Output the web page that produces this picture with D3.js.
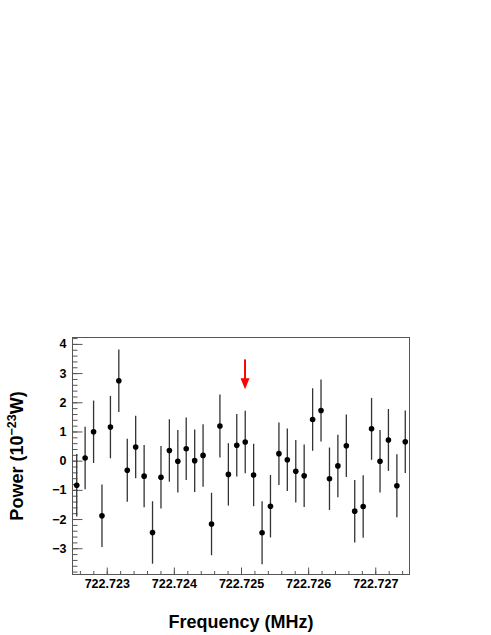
<!DOCTYPE html>
<html>
<head>
<meta charset="utf-8">
<script src="https://cdn.jsdelivr.net/npm/d3@7"></script>
<style>
  html, body { margin: 0; padding: 0; background: #fff; }
  svg { display: block; }
  text { font-family: "Liberation Sans", Arial, Helvetica, sans-serif; font-weight: bold; }
</style>
</head>
<body>
<svg id="chart" width="491" height="635"></svg>
<script>
// ---- data ----
const frequencies = [
  722.722553, 722.722678, 722.722804, 722.722929, 722.723055,
  722.723180, 722.723306, 722.723431, 722.723557, 722.723682,
  722.723808, 722.723933, 722.724059, 722.724184, 722.724310,
  722.724435, 722.724561, 722.724686, 722.724812, 722.724937,
  722.725063, 722.725188, 722.725314, 722.725439, 722.725565,
  722.725690, 722.725816, 722.725941, 722.726067, 722.726192,
  722.726318, 722.726443, 722.726569, 722.726694, 722.726820,
  722.726945, 722.727071, 722.727196, 722.727322, 722.727447
];
const power = [
  -0.84, 0.09, 0.99, -1.89, 1.15,
  2.74, -0.33, 0.47, -0.53, -2.46,
  -0.57, 0.35, -0.02, 0.41, 0.00,
  0.18, -2.17, 1.19, -0.47, 0.53,
  0.64, -0.49, -2.47, -1.56, 0.24,
  0.03, -0.36, -0.52, 1.41, 1.72,
  -0.62, -0.18, 0.51, -1.73, -1.57,
  1.09, -0.02, 0.71, -0.86, 0.65
];
const powerErr = [
  1.07, 1.07, 1.07, 1.07, 1.07,
  1.07, 1.08, 1.07, 1.07, 1.07,
  1.07, 1.07, 1.07, 1.07, 1.07,
  1.07, 1.07, 1.08, 1.07, 1.07,
  1.07, 1.07, 1.08, 1.07, 1.07,
  1.07, 1.07, 1.07, 1.07, 1.06,
  1.07, 1.07, 1.07, 1.07, 1.07,
  1.06, 1.07, 1.06, 1.08, 1.07
];
const xTicks = [722.723, 722.724, 722.725, 722.726, 722.727];
const yTicks = [-3, -2, -1, 0, 1, 2, 3, 4];
const xDomain = [722.72249, 722.72751];
const yDomain = [-3.9, 4.22];
const arrowFreq = 722.72506;
const arrowFrom = 3.47;
const arrowTo = 2.45;

// ---- layout ----
const svg = d3.select("#chart");
const plot = { left: 72.5, right: 409.5, top: 337.5, bottom: 574.5 };

const x = d3.scaleLinear().domain(xDomain).range([plot.left, plot.right]);
const y = d3.scaleLinear().domain(yDomain).range([plot.bottom, plot.top]);

svg.append("rect").attr("width", 491).attr("height", 635).attr("fill", "#fff");

// minor ticks
const xMinor = d3.range(Math.ceil(xDomain[0] / 0.0002), Math.floor(xDomain[1] / 0.0002) + 1)
  .map(k => +(k * 0.0002).toFixed(4))
  .filter(v => v >= xDomain[0] && v <= xDomain[1]);
const yMinor = d3.range(Math.ceil(yDomain[0] / 0.2), Math.floor(yDomain[1] / 0.2) + 1)
  .map(k => +(k * 0.2).toFixed(1));

const axisColor = "#555";

const gx = svg.append("g").attr("transform", `translate(0,${plot.bottom})`);
gx.append("g").call(d3.axisBottom(x).tickValues(xMinor).tickSize(-3.5).tickFormat(""));
gx.append("g").call(d3.axisBottom(x).tickValues(xTicks).tickSize(-7).tickPadding(5)
  .tickFormat(d3.format(".3f")));
gx.selectAll(".domain").remove();
gx.selectAll("line").attr("stroke", axisColor);
gx.selectAll("text").attr("font-size", 12.5).attr("fill", "#000")
  .attr("font-family", "'Liberation Sans', Arial, sans-serif").attr("font-weight", "bold");

const gy = svg.append("g").attr("transform", `translate(${plot.left},0)`);
gy.append("g").call(d3.axisLeft(y).tickValues(yMinor).tickSize(-5).tickFormat(""));
gy.append("g").call(d3.axisLeft(y).tickValues(yTicks).tickSize(-10).tickPadding(6)
  .tickFormat(d3.format("d")));
gy.selectAll(".domain").remove();
gy.selectAll("line").attr("stroke", axisColor);
gy.selectAll("text").attr("font-size", 12.5).attr("fill", "#000")
  .attr("font-family", "'Liberation Sans', Arial, sans-serif").attr("font-weight", "bold");

// frame
svg.append("rect")
  .attr("x", plot.left).attr("y", plot.top)
  .attr("width", plot.right - plot.left).attr("height", plot.bottom - plot.top)
  .attr("fill", "none").attr("stroke", axisColor).attr("stroke-width", 1);

// data
const data = frequencies.map((f, i) => ({ f, p: power[i], e: powerErr[i] }));

svg.append("g").selectAll("line").data(data).join("line")
  .attr("x1", d => x(d.f)).attr("x2", d => x(d.f))
  .attr("y1", d => y(d.p - d.e)).attr("y2", d => y(d.p + d.e))
  .attr("stroke", "#333").attr("stroke-width", 1.3);

svg.append("g").selectAll("circle").data(data).join("circle")
  .attr("cx", d => x(d.f)).attr("cy", d => y(d.p))
  .attr("r", 2.8).attr("fill", "#000");

// arrow
const ax = x(arrowFreq);
const headLen = 11;
svg.append("line")
  .attr("x1", ax).attr("x2", ax)
  .attr("y1", y(arrowFrom)).attr("y2", y(arrowTo) - headLen + 1)
  .attr("stroke", "#ff0000").attr("stroke-width", 2);
svg.append("path")
  .attr("d", `M${ax - 4.5},${y(arrowTo) - headLen} L${ax + 4.5},${y(arrowTo) - headLen} L${ax},${y(arrowTo)} Z`)
  .attr("fill", "#ff0000");

// titles
svg.append("text")
  .attr("x", (plot.left + plot.right) / 2).attr("y", 628)
  .attr("text-anchor", "middle").attr("font-size", 18).attr("fill", "#000")
  .text("Frequency (MHz)");

const yt = svg.append("text")
  .attr("transform", `translate(23,${(plot.top + plot.bottom) / 2}) rotate(-90)`)
  .attr("text-anchor", "middle").attr("font-size", 18).attr("fill", "#000");
yt.append("tspan").text("Power (10");
yt.append("tspan").attr("dy", -7).attr("font-size", 12.5).text("\u221223");
yt.append("tspan").attr("dy", 7).text("W)");
</script>
</body>
</html>
